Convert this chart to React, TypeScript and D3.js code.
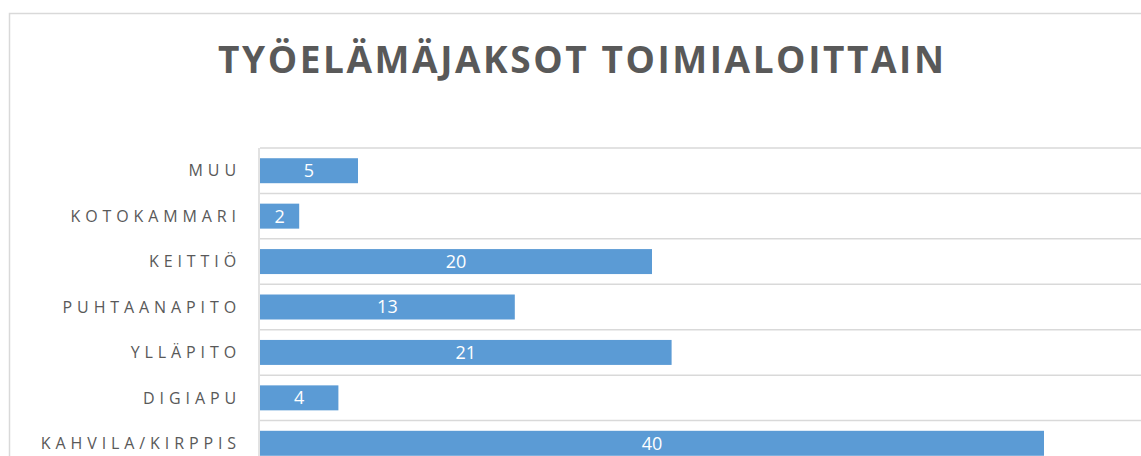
import React from "react";
import * as d3 from "d3";

const title = "TYÖELÄMÄJAKSOT TOIMIALOITTAIN";
const categories = ["MUU", "KOTOKAMMARI", "KEITTIÖ", "PUHTAANAPITO", "YLLÄPITO", "DIGIAPU", "KAHVILA/KIRPPIS"];
const values = [5, 2, 20, 13, 21, 4, 40];
const xMax = 45;

export default function App() {
  const W = 1141, H = 456;
  const left = 260, right = 1142, top = 148, bottom = 466;
  const x = d3.scaleLinear().domain([0, xMax]).range([left, right]);
  const y = d3.scaleBand<string>().domain(categories).range([top, bottom]).paddingInner(0.45).paddingOuter(0.225);
  const step = y.step();
  const grey = "#595959";
  const grid = "#d9d9d9";
  return (
    <svg width={W} height={H} style={{ position: "absolute", left: 0, top: 0, display: "block" }}>
      <rect x={0} y={0} width={W} height={H} fill="#fff" />
      <rect x={9.5} y={13.5} width={W + 20} height={H + 20} fill="none" stroke={grid} strokeWidth={1.5} />
      <text x={218} y={73} textLength={726} lengthAdjust="spacing" fill={grey}
        style={{ fontFamily: "'Open Sans', sans-serif", fontWeight: 700, fontSize: 37 }}>{title}</text>
      {categories.map((c, i) => (
        <line key={"g" + i} x1={left} x2={W + 5} y1={top + i * step} y2={top + i * step} stroke={grid} strokeWidth={1.5} />
      ))}
      <line x1={left} x2={W + 5} y1={bottom} y2={bottom} stroke={grid} strokeWidth={1.5} />
      <line x1={left - 1} x2={left - 1} y1={top} y2={bottom} stroke={grid} strokeWidth={1.5} />
      {categories.map((c, i) => {
        const yy = y(c)!;
        const bw = y.bandwidth();
        return (
          <g key={c}>
            <rect x={x(0)} y={yy} width={x(values[i]) - x(0)} height={bw} fill="#5b9bd5" />
            <text x={(x(0) + x(values[i])) / 2} y={yy + bw / 2} dy="0.36em" textAnchor="middle" fill="#fff"
              style={{ fontFamily: "'Open Sans', sans-serif", fontSize: 18 }}>{values[i]}</text>
            <text x={241} y={yy + bw / 2} dy="0.36em" textAnchor="end" fill={grey}
              style={{ fontFamily: "'Open Sans', sans-serif", fontSize: 16, letterSpacing: 4.9 }}>{c}</text>
          </g>
        );
      })}
    </svg>
  );
}
